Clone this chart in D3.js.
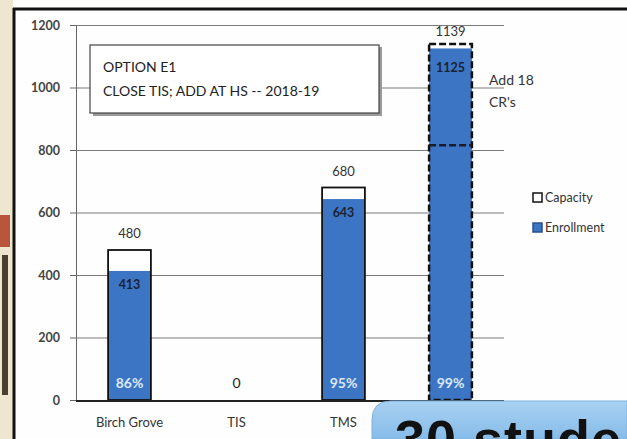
<!DOCTYPE html>
<html><head><meta charset="utf-8">
<script src="https://cdn.jsdelivr.net/npm/d3@7"></script>
<style>html,body{margin:0;padding:0;background:#fdfdfb;}svg{display:block;}</style>
</head><body>
<svg id="c" width="627" height="439"></svg>
<script>
const categories = ["Birch Grove", "TIS", "TMS", "HS"];
const capacity = [480, 0, 680, 1139];
const enrollment = [413, 0, 643, 1125];
const utilization = ["86%", "0", "95%", "99%"];
const existingCapacity = [null, null, null, 815];
const yTicks = [0, 200, 400, 600, 800, 1000, 1200];
const titleLines = ["OPTION E1", "CLOSE TIS; ADD AT HS -- 2018-19"];
const noteLines = ["Add 18", "CR's"];
const legendItems = ["Capacity", "Enrollment"];

const svg = d3.select("#c");
const F = "Lato, 'Open Sans', sans-serif";
const BLUE = "#3d75c5";

// paper background & frame (photo edge)
svg.append("rect").attr("x",0).attr("y",0).attr("width",13).attr("height",439).attr("fill","#efe6cf");
svg.append("rect").attr("x",0).attr("y",215).attr("width",10).attr("height",32).attr("fill","#b8553a");
svg.append("rect").attr("x",2).attr("y",255).attr("width",6).attr("height",140).attr("fill","#4a4030");
svg.append("rect").attr("x",15).attr("y",10).attr("width",612).attr("height",429).attr("fill","#fefefe");
svg.append("line").attr("x1",14).attr("x2",14).attr("y1",8).attr("y2",439).attr("stroke","#111").attr("stroke-width",3);
svg.append("line").attr("x1",13).attr("x2",627).attr("y1",9).attr("y2",9).attr("stroke","#111").attr("stroke-width",3);

const x = d3.scaleBand().domain(categories).range([76, 504]).paddingInner(0.6).paddingOuter(0.3);
const y = d3.scaleLinear().domain([0, 1200]).range([400, 25]);

// gridlines
const grid = svg.append("g").attr("transform","translate(76,0)")
  .call(d3.axisLeft(y).tickValues(yTicks).tickSize(-428).tickFormat(""));
grid.select(".domain").remove();
grid.selectAll(".tick line").attr("stroke","#7a7a7a").attr("stroke-width",1);

// y axis
const ya = svg.append("g").attr("transform","translate(76,0)")
  .call(d3.axisLeft(y).tickValues(yTicks).tickSize(6).tickPadding(10).tickFormat(d3.format("d")));
ya.select(".domain").attr("stroke","#666");
ya.selectAll(".tick line").attr("stroke","#666");
ya.selectAll("text").attr("font-family",F).attr("font-size",12.5).attr("fill","#444").attr("font-weight","bold");

// annotation box
svg.append("rect").attr("x",93).attr("y",47).attr("width",289).attr("height",69).attr("fill","#9a9a9a");
svg.append("rect").attr("x",90).attr("y",45).attr("width",289).attr("height",68).attr("fill","#fff").attr("stroke","#444").attr("stroke-width",1.2);
svg.append("g").selectAll("text").data(titleLines).join("text")
  .attr("x",103).attr("y",(d,i)=>72+i*24).attr("font-family",F).attr("font-size",14).attr("fill","#222").text(d=>d);

const data = categories.map((c,i)=>({c, cap:capacity[i], enr:enrollment[i], pct:utilization[i], ex:existingCapacity[i], last:i===categories.length-1}));

// capacity fill
svg.append("g").selectAll("rect").data(data.filter(d=>d.cap>0)).join("rect")
  .attr("x",d=>x(d.c)).attr("width",x.bandwidth())
  .attr("y",d=>y(d.cap)).attr("height",d=>y(0)-y(d.cap)).attr("fill","#fff");
// enrollment
svg.append("g").selectAll("rect").data(data.filter(d=>d.enr>0)).join("rect")
  .attr("x",d=>x(d.c)).attr("width",x.bandwidth())
  .attr("y",d=>y(d.enr)).attr("height",d=>y(0)-y(d.enr)).attr("fill",BLUE);
// capacity outline
svg.append("g").selectAll("rect").data(data.filter(d=>d.cap>0)).join("rect")
  .attr("x",d=>x(d.c)).attr("width",x.bandwidth())
  .attr("y",d=>y(d.cap)).attr("height",d=>y(0)-y(d.cap)).attr("fill","none")
  .attr("stroke","#111").attr("stroke-width",d=>d.last?2.5:1.8)
  .attr("stroke-dasharray",d=>d.last?"7,3":null);
// existing capacity dashed line
svg.append("g").selectAll("line").data(data.filter(d=>d.ex!=null)).join("line")
  .attr("x1",d=>x(d.c)).attr("x2",d=>x(d.c)+x.bandwidth())
  .attr("y1",d=>y(d.ex)).attr("y2",d=>y(d.ex))
  .attr("stroke","#1a1a2a").attr("stroke-width",2.5).attr("stroke-dasharray","7,3");

// x axis baseline
svg.append("line").attr("x1",76).attr("x2",504).attr("y1",y(0)+1).attr("y2",y(0)+1).attr("stroke","#222").attr("stroke-width",2);

// labels
const cx = d=>x(d.c)+x.bandwidth()/2;
svg.append("g").selectAll("text").data(data.filter(d=>d.cap>0)).join("text")
  .attr("x",cx).attr("y",d=>y(d.cap)-(d.last?8:12)).attr("text-anchor","middle")
  .attr("font-family",F).attr("font-size",13).attr("fill","#333").text(d=>d.cap);
svg.append("g").selectAll("text").data(data.filter(d=>d.enr>0)).join("text")
  .attr("x",cx).attr("y",d=>y(d.enr)+(d.last?24:18)).attr("text-anchor","middle")
  .attr("font-family",F).attr("font-size",12.5).attr("font-weight","bold").attr("fill","#1a2333").text(d=>d.enr);
svg.append("g").selectAll("text").data(data).join("text")
  .attr("x",cx).attr("y",388).attr("text-anchor","middle")
  .attr("font-family",F).attr("font-size",14).attr("font-weight",d=>d.enr>0?"bold":"normal")
  .attr("fill",d=>d.enr>0?"#dbe9f8":"#222").text(d=>d.pct);

// category labels (the last one is hidden behind the overlay card in the photo)
svg.append("g").selectAll("text").data(data.filter(d=>!d.last)).join("text")
  .attr("x",cx).attr("y",427).attr("text-anchor","middle")
  .attr("font-family",F).attr("font-size",13).attr("fill","#333").text(d=>d.c);

// note
svg.append("g").selectAll("text").data(noteLines).join("text")
  .attr("x",489).attr("y",(d,i)=>85+i*22).attr("font-family",F).attr("font-size",14).attr("fill","#333").text(d=>d);

// legend
const lg = svg.append("g").selectAll("g").data(legendItems).join("g")
  .attr("transform",(d,i)=>`translate(533,${193+i*30})`);
lg.append("rect").attr("width",9).attr("height",9)
  .attr("fill",(d,i)=>i===0?"#fff":BLUE).attr("stroke",(d,i)=>i===0?"#111":"#2a4f8a").attr("stroke-width",1.5);
lg.append("text").attr("x",12).attr("y",9).attr("font-family",F).attr("font-size",12.5).attr("fill","#333").text(d=>d);

// overlay card from the photo
const defs = svg.append("defs");
const gr = defs.append("linearGradient").attr("id","og").attr("x1",0).attr("y1",0).attr("x2",0).attr("y2",1);
gr.append("stop").attr("offset","0").attr("stop-color","#a9d1f2");
gr.append("stop").attr("offset","1").attr("stop-color","#86bce9");
svg.append("path").attr("d","M372,439 L372,420 Q372,401 391,401 L627,401 L627,439 Z")
  .attr("fill","url(#og)").attr("stroke","#7fb0dd").attr("stroke-width",1);
svg.append("text").attr("x",395).attr("y",458).attr("font-family","'Liberation Sans', Arial, sans-serif")
  .attr("font-weight","bold").attr("font-size",54).attr("letter-spacing",1).attr("fill","#111").text("30 stude");
</script>
</body></html>
